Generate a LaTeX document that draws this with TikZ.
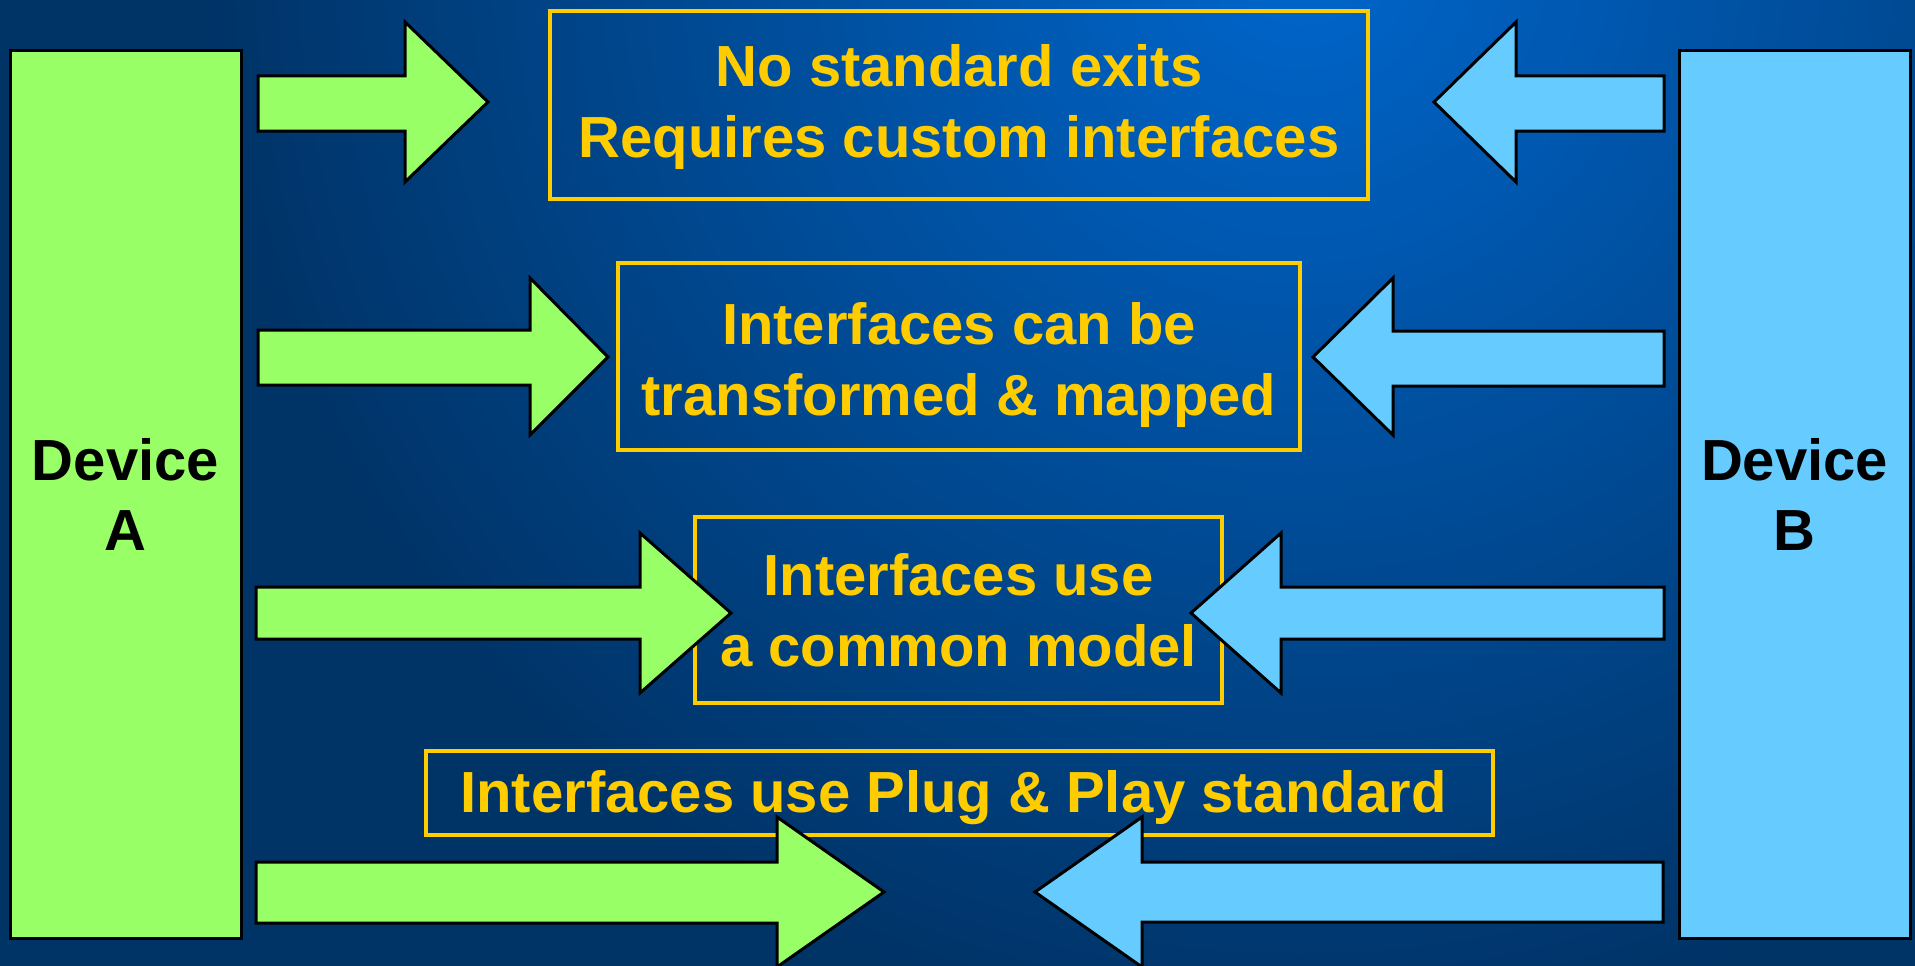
\documentclass[tikz,border=0pt]{standalone}
\usepackage{fontspec}
\setmainfont{Liberation Sans}
\usetikzlibrary{calc}
\definecolor{bgdark}{HTML}{003366}
\definecolor{bglight}{HTML}{0066CC}
\definecolor{devgreen}{HTML}{99FF66}
\definecolor{devblue}{HTML}{66CCFF}
\definecolor{boxyellow}{HTML}{FFCC00}

\begin{document}
\begin{tikzpicture}[x=1pt,y=-1pt,
	device/.style={draw=black,line width=3pt,minimum width=231pt,minimum height=887pt,inner sep=0pt,align=center,font=\fontsize{58}{70}\selectfont\bfseries},
	infobox/.style={draw=boxyellow,line width=4pt,inner sep=0pt},
	infotext/.style={text=boxyellow,align=center,font=\fontsize{58}{71}\selectfont\bfseries},
	fatarrow/.style={draw=black,line width=3pt,line join=miter}]
		% background
		\fill [bgdark] (0,0) rectangle (1915,966);
		\begin{scope}
			\clip (0,0) rectangle (1915,966);
			\shade [inner color=bglight,outer color=bgdark] (1300,-50) circle (1100pt);
		\end{scope}
		\useasboundingbox (0,0) rectangle (1915,966);
		
		\node [device,fill=devgreen] (devA) at (125.5,494.5) {Device\\A};
		\node [device,fill=devblue] (devB) at (1794.5,494.5) {Device\\B};
		
		\node [infobox,minimum width=818pt,minimum height=188pt] (box1) at (959,105) {};
		\node [infobox,minimum width=682pt,minimum height=187pt] (box2) at (959,356.5) {};
		\node [infobox,minimum width=527pt,minimum height=186pt] (box3) at (958.5,610) {};
		\node [infobox,minimum width=1067pt,minimum height=84pt] (box4) at (959.5,793) {};
		\node [infotext,yshift=-2pt] (txt1) at (box1.center) {No standard exits\\Requires custom interfaces};
		\node [infotext,yshift=-9pt] (txt2) at (box2.center) {Interfaces can be\\transformed \& mapped};
		\node [infotext] (txt3) at (box3.center) {Interfaces use\\a common model};
		\node [infotext,xshift=-6pt,yshift=-5pt] (txt4) at (box4.center) {Interfaces use Plug \& Play standard};
		
		% arrows from device A
		\draw [fatarrow,fill=devgreen] (258,76) -- (405,76) -- (405,22) -- (488,102) -- (405,182) -- (405,131) -- (258,131) -- cycle;
		\draw [fatarrow,fill=devgreen] (258,330) -- (530,330) -- (530,278) -- (608,357) -- (530,435) -- (530,385) -- (258,385) -- cycle;
		\draw [fatarrow,fill=devgreen] (256,587) -- (640,587) -- (640,533) -- (731,613) -- (640,693) -- (640,639) -- (256,639) -- cycle;
		\draw [fatarrow,fill=devgreen] (256,862) -- (777,862) -- (777,817) -- (884,892) -- (777,967) -- (777,923) -- (256,923) -- cycle;
		% arrows from device B
		\draw [fatarrow,fill=devblue] (1664,76) -- (1516,76) -- (1516,22) -- (1434,102) -- (1516,182) -- (1516,131) -- (1664,131) -- cycle;
		\draw [fatarrow,fill=devblue] (1664,331) -- (1393,331) -- (1393,278) -- (1313,357) -- (1393,435) -- (1393,386) -- (1664,386) -- cycle;
		\draw [fatarrow,fill=devblue] (1664,587) -- (1281,587) -- (1281,533) -- (1191,613) -- (1281,693) -- (1281,639) -- (1664,639) -- cycle;
		\draw [fatarrow,fill=devblue] (1663,862) -- (1142,862) -- (1142,817) -- (1035,892) -- (1142,967) -- (1142,922) -- (1663,922) -- cycle;
\end{tikzpicture}
\end{document}
